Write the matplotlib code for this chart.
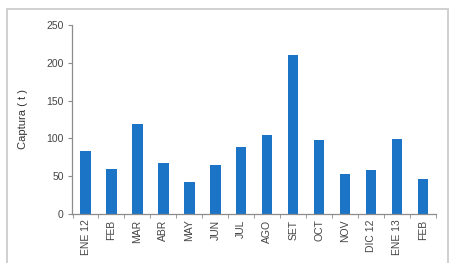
import matplotlib
matplotlib.use("Agg")
import matplotlib.pyplot as plt
from matplotlib.patches import Rectangle
import numpy as np

plt.rcParams["font.family"] = ["Liberation Sans", "DejaVu Sans"]

categories = ["ENE 12", "FEB", "MAR", "ABR", "MAY", "JUN", "JUL", "AGO", "SET",
              "OCT", "NOV", "DIC 12", "ENE 13", "FEB"]
captura = [83, 60, 119, 67, 42, 65, 89, 104, 210, 98, 53, 58, 99, 46]
yticks = [0, 50, 100, 150, 200, 250]

fig = plt.figure(figsize=(4.51, 2.63), dpi=100)
fig.patches.append(Rectangle((7/451, -0.05), (448-7)/451, 1 - 9/263 + 0.05,
                             transform=fig.transFigure, fill=False,
                             edgecolor="#c8c8c8", linewidth=1.2))
ax = fig.add_axes([72/451, 1 - 214/263, (436-72)/451, (214-25)/263])

x = np.arange(len(categories))
ax.bar(x, captura, width=0.4, color="#1c74c6", zorder=2)

ax.set_xlim(-0.52, len(categories) - 0.5)
ax.set_ylim(0, 250)
ax.set_yticks(yticks)
ax.set_yticklabels([str(v) for v in yticks])
ax.set_xticks(x)
ax.set_xticklabels(categories, rotation=90)
ax.set_xticks(np.arange(len(categories) + 1) - 0.5, minor=True)

for s in ["top", "right"]:
    ax.spines[s].set_visible(False)
for s in ["left", "bottom"]:
    ax.spines[s].set_color("#8c8c8c")
    ax.spines[s].set_linewidth(0.9)

ax.tick_params(axis="y", length=3, color="#8c8c8c", labelsize=7.5, labelcolor="#444444", pad=3)
ax.tick_params(axis="x", which="major", length=0, labelsize=7.5, labelcolor="#444444", pad=4)
ax.tick_params(axis="x", which="minor", length=3, color="#8c8c8c")

ax.set_ylabel("Captura ( t )", fontsize=8, color="#333333", labelpad=13)

fig.savefig("out.png", dpi=100)
